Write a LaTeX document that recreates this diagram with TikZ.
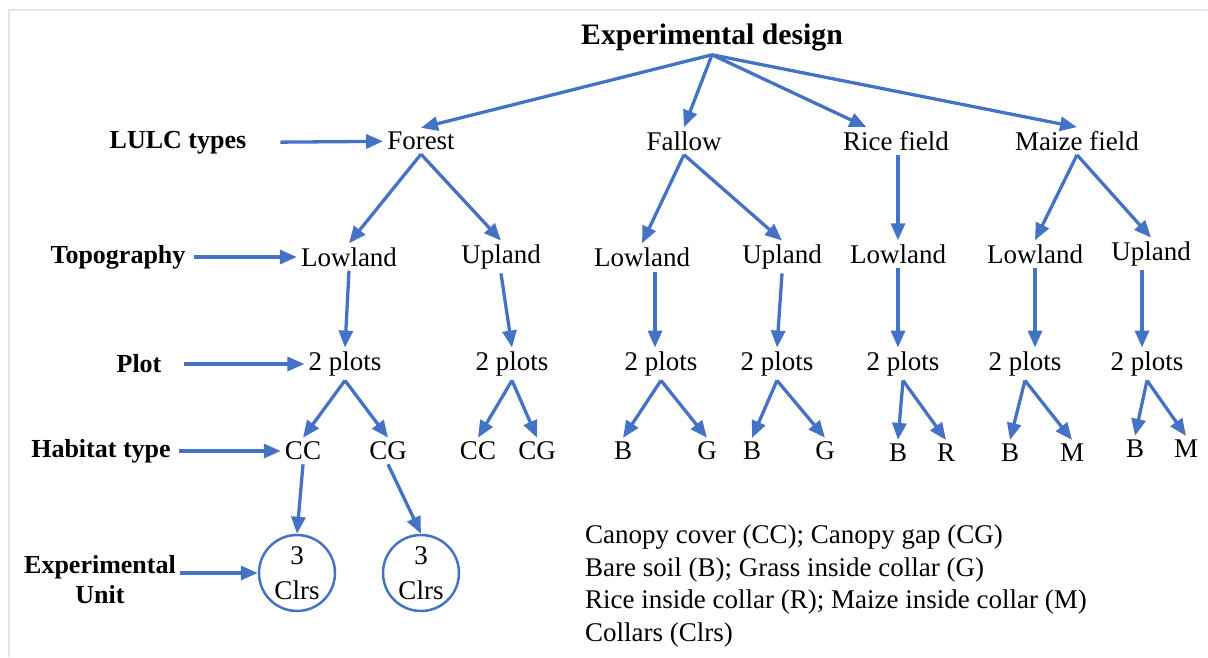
\documentclass[tikz,border=0pt]{standalone}
\usepackage{fontspec}
\setmainfont{Liberation Serif}
\usetikzlibrary{arrows.meta}
\definecolor{arrblue}{RGB}{68,114,196}
\definecolor{frameblue}{RGB}{218,230,246}

\begin{document}
\begin{tikzpicture}[x=1pt,y=-1pt,
    every node/.style={font=\fontsize{27}{31}\selectfont, inner sep=4pt},
    arr/.style={draw=arrblue, line width=3.3pt, -{Triangle[length=17pt,width=14pt]}},
    lbl/.style={font=\fontsize{26}{30}\selectfont\bfseries, align=center},
    unit/.style={circle, draw=arrblue, line width=2.5pt, minimum size=76pt,
        inner sep=0pt, align=center, font=\fontsize{27}{35}\selectfont}]
            \useasboundingbox (0,0) rectangle (1208,657);
            \draw[frameblue, line width=1.5pt] (9,657) -- (9,10) -- (1208,10);
            % title
            \node[font=\fontsize{29.7}{34}\selectfont\bfseries] (design) at (712,37) {Experimental design};
            % row labels
            \node[lbl] (lulc) at (178,143) {LULC types};
            \node[lbl] (topo) at (118,257) {Topography};
            \node[lbl] (plot) at (139,364) {Plot};
            \node[lbl] (habitat) at (101,451) {Habitat type};
            \node[lbl] (expunit) at (100,580) {Experimental\\Unit};
            % LULC types
            \node (forest) at (421,141) {Forest};
            \node (fallow) at (684,141) {Fallow};
            \node (rice) at (896,141) {Rice field};
            \node (maize) at (1077,141) {Maize field};
            % topography
            \node (f-low) at (349,257) {Lowland};
            \node (f-up) at (501,257) {Upland};
            \node (w-low) at (642,257) {Lowland};
            \node (w-up) at (782,257) {Upland};
            \node (r-low) at (898,254) {Lowland};
            \node (m-low) at (1035,254) {Lowland};
            \node (m-up) at (1151,254) {Upland};
            % plots
            \node (f-low-p) at (345,364) {2 plots};
            \node (f-up-p) at (512,364) {2 plots};
            \node (w-low-p) at (661,364) {2 plots};
            \node (w-up-p) at (777,364) {2 plots};
            \node (r-low-p) at (903,364) {2 plots};
            \node (m-low-p) at (1025,364) {2 plots};
            \node (m-up-p) at (1147,364) {2 plots};
            % habitat types
            \node (f-cc) at (303,451) {CC};
            \node (f-cg) at (388,451) {CG};
            \node (u-cc) at (478,451) {CC};
            \node (u-cg) at (537,451) {CG};
            \node (w-b1) at (623,451) {B};
            \node (w-g1) at (707,451) {G};
            \node (w-b2) at (752,451) {B};
            \node (w-g2) at (825,451) {G};
            \node (r-b) at (898,453) {B};
            \node (r-r) at (946,453) {R};
            \node (m-b1) at (1010,453) {B};
            \node (m-m1) at (1072,453) {M};
            \node (m-b2) at (1135,449) {B};
            \node (m-m2) at (1186,449) {M};
            % experimental units
            \node[unit] (cc-unit) at (297,573) {3\\Clrs};
            \node[unit] (cg-unit) at (421,573) {3\\Clrs};
            % legend
            \node[anchor=west, align=left, font=\fontsize{27}{32.5}\selectfont] (legend) at (581,586)
                {Canopy cover (CC); Canopy gap (CG)\\Bare soil (B); Grass inside collar (G)\\
                 Rice inside collar (R); Maize inside collar (M)\\Collars (Clrs)};
            % label arrows
            \draw[arr, shorten <=30pt] (lulc) -- (forest);
            \draw[arr, shorten <=4pt] (topo) -- (f-low);
            \draw[arr, shorten <=18pt] (plot) -- (f-low-p);
            \draw[arr, shorten <=4pt] (habitat) -- (f-cc);
            \draw[arr] (expunit.east |- cc-unit) -- (cc-unit);
            % tree arrows
            \draw[arr] (design.south) -- (forest.north);
            \draw[arr] (design.south) -- (fallow.north);
            \draw[arr] (design.south) -- (rice);
            \draw[arr] (design.south) -- (maize.north);
            \draw[arr] (forest.south) -- (f-low.north);
            \draw[arr] (forest.south) -- (f-up.north);
            \draw[arr] (fallow.south) -- (w-low.north);
            \draw[arr] (fallow.south) -- (w-up.north);
            \draw[arr] (rice.south -| r-low) -- (r-low.north);
            \draw[arr] (maize.south) -- (m-low.north);
            \draw[arr] (maize.south) -- (m-up.north);
            \draw[arr] (f-low.south) -- (f-low-p.north);
            \draw[arr] (f-up.south) -- (f-up-p.north);
            \draw[arr] (w-low-p.north -| w-low) ++(13,-76) coordinate (w-low-s) -- (w-low-s |- w-low-p.north);
            \draw[arr] (w-up.south) -- (w-up-p.north);
            \draw[arr] (r-low.south) -- (r-low.south |- r-low-p.north);
            \draw[arr] (m-low.south) -- (m-low.south |- m-low-p.north);
            \draw[arr] (m-up.south -| m-up-p.north) ++(-5,0) coordinate (m-up-s) -- (m-up-s |- m-up-p.north);
            \draw[arr] (f-low-p.south) -- (f-cc.north);
            \draw[arr] (f-low-p.south) -- (f-cg.north);
            \draw[arr] (f-up-p.south) -- (u-cc.north);
            \draw[arr] (f-up-p.south) -- (u-cg.north);
            \draw[arr] (w-low-p.south) -- (w-b1.north);
            \draw[arr] (w-low-p.south) -- (w-g1.north);
            \draw[arr] (w-up-p.south) -- (w-b2.north);
            \draw[arr] (w-up-p.south) -- (w-g2.north);
            \draw[arr] (r-low-p.south) -- (r-b.north);
            \draw[arr] (r-low-p.south) -- (r-r.north);
            \draw[arr] (m-low-p.south) -- (m-b1.north);
            \draw[arr] (m-low-p.south) -- (m-m1.north);
            \draw[arr] (m-up-p.south) -- (m-b2.north);
            \draw[arr] (m-up-p.south) -- (m-m2.north);
            \draw[arr] (f-cc.south) -- (cc-unit.north);
            \draw[arr] (f-cg.south) -- (cg-unit.north);
        \end{tikzpicture}
\end{document}
